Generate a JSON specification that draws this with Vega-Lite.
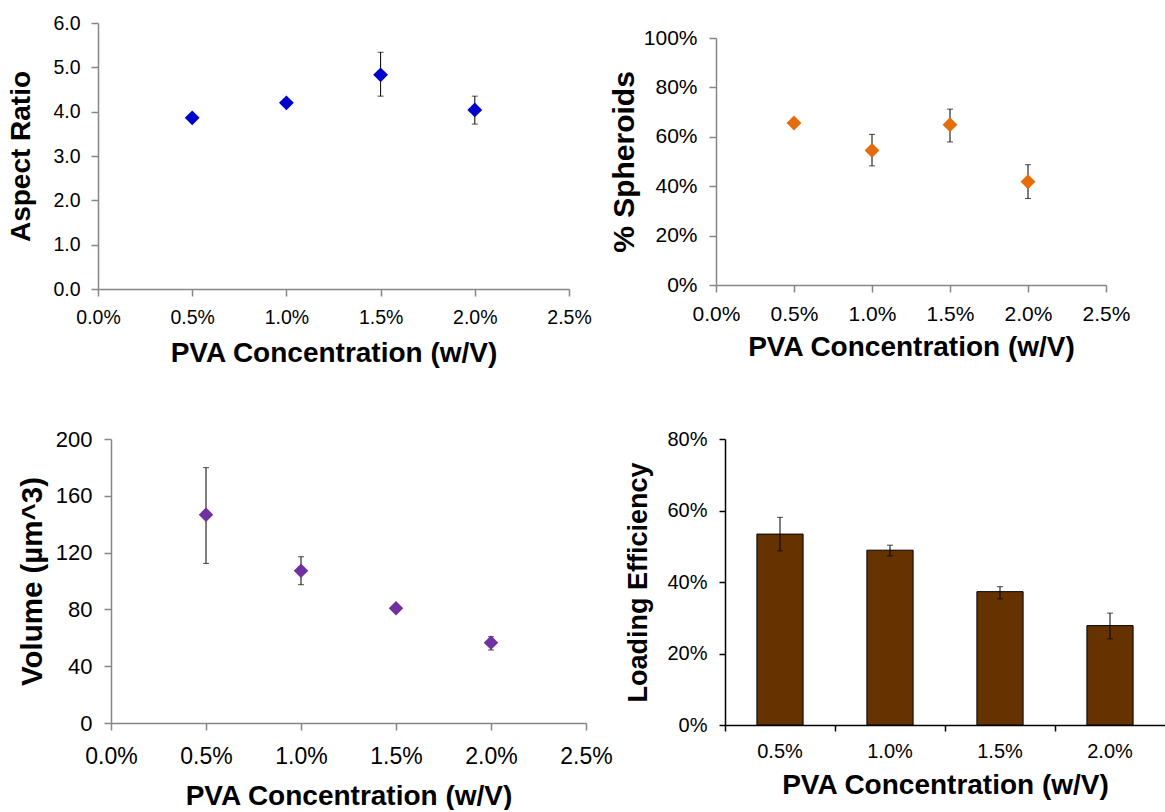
{
  "$schema": "https://vega.github.io/schema/vega-lite/v6.json",
  "background": "white",
  "padding": {"left": 7, "top": 13, "right": 0, "bottom": 0},
  "spacing": 60,
  "datasets": {
    "aspect": [
      {"conc": 0.005, "v": 3.86, "lo": 3.81, "hi": 3.91},
      {"conc": 0.010, "v": 4.20, "lo": 4.15, "hi": 4.25},
      {"conc": 0.015, "v": 4.83, "lo": 4.35, "hi": 5.34},
      {"conc": 0.020, "v": 4.04, "lo": 3.72, "hi": 4.35}
    ],
    "spheroids": [
      {"conc": 0.005, "v": 0.656, "lo": 0.646, "hi": 0.666},
      {"conc": 0.010, "v": 0.545, "lo": 0.482, "hi": 0.61},
      {"conc": 0.015, "v": 0.649, "lo": 0.579, "hi": 0.712},
      {"conc": 0.020, "v": 0.418, "lo": 0.35, "hi": 0.487}
    ],
    "volume": [
      {"conc": 0.005, "v": 146.7, "lo": 112.4, "hi": 179.8},
      {"conc": 0.010, "v": 107.3, "lo": 97.4, "hi": 117.1},
      {"conc": 0.015, "v": 80.8, "lo": 78.8, "hi": 82.8},
      {"conc": 0.020, "v": 56.6, "lo": 51.4, "hi": 60.8}
    ],
    "loading": [
      {"conc": "0.5%", "v": 0.534, "lo": 0.487, "hi": 0.581},
      {"conc": "1.0%", "v": 0.489, "lo": 0.473, "hi": 0.503},
      {"conc": "1.5%", "v": 0.373, "lo": 0.353, "hi": 0.387},
      {"conc": "2.0%", "v": 0.278, "lo": 0.241, "hi": 0.313}
    ]
  },
  "vconcat": [
    {
      "hconcat": [
        {
          "width": 471, "height": 266,
          "data": {"name": "aspect"},
          "layer": [
            {
              "mark": {"type": "errorbar", "ticks": {"color": "black"}, "rule": {"color": "black"}, "size": 6, "thickness": 1},
              "encoding": {
                "x": {"field": "conc", "type": "quantitative", "scale": {"domain": [0, 0.025]},
                  "axis": {"values": [0, 0.005, 0.01, 0.015, 0.02, 0.025], "format": ".1%", "labelFontSize": 19.5, "labelPadding": 12, "titleFontSize": 28, "titlePadding": 13, "labelFlush": false, "labelOverlap": false},
                  "title": "PVA Concentration (w/V)"},
                "y": {"field": "lo", "type": "quantitative", "scale": {"domain": [0, 6]},
                  "axis": {"values": [0, 1, 2, 3, 4, 5, 6], "format": ".1f", "labelFontSize": 19.5, "labelPadding": 11, "titleFontSize": 28, "titlePadding": 17},
                  "title": "Aspect Ratio"},
                "y2": {"field": "hi"}
              }
            },
            {
              "mark": {"type": "point", "shape": "diamond", "filled": true, "size": 220, "color": "#0000CC", "opacity": 1},
              "encoding": {
                "x": {"field": "conc", "type": "quantitative", "scale": {"domain": [0, 0.025]},
                  "axis": {"values": [0, 0.005, 0.01, 0.015, 0.02, 0.025], "format": ".1%", "labelFontSize": 19.5, "labelPadding": 12, "titleFontSize": 28, "titlePadding": 13, "labelFlush": false, "labelOverlap": false},
                  "title": "PVA Concentration (w/V)"},
                "y": {"field": "v", "type": "quantitative", "scale": {"domain": [0, 6]},
                  "axis": {"values": [0, 1, 2, 3, 4, 5, 6], "format": ".1f", "labelFontSize": 19.5, "labelPadding": 11, "titleFontSize": 28, "titlePadding": 17},
                  "title": "Aspect Ratio"}
              }
            }
          ]
        },
        {
          "width": 390, "height": 262,
          "data": {"name": "spheroids"},
          "layer": [
            {
              "mark": {"type": "errorbar", "ticks": {"color": "black"}, "rule": {"color": "black"}, "size": 6, "thickness": 1},
              "encoding": {
                "x": {"field": "conc", "type": "quantitative", "scale": {"domain": [0, 0.025]},
                  "axis": {"values": [0, 0.005, 0.01, 0.015, 0.02, 0.025], "format": ".1%", "labelFontSize": 21, "labelPadding": 11, "titleFontSize": 28, "titlePadding": 9, "labelFlush": false, "labelOverlap": false},
                  "title": "PVA Concentration (w/V)"},
                "y": {"field": "lo", "type": "quantitative", "scale": {"domain": [0, 1], "range": [262, 15]},
                  "axis": {"values": [0, 0.2, 0.4, 0.6, 0.8, 1], "format": ".0%", "labelFontSize": 21, "labelPadding": 12, "titleFontSize": 30, "titlePadding": 4},
                  "title": "% Spheroids"},
                "y2": {"field": "hi"}
              }
            },
            {
              "mark": {"type": "point", "shape": "diamond", "filled": true, "size": 220, "color": "#E46C0A", "opacity": 1},
              "encoding": {
                "x": {"field": "conc", "type": "quantitative", "scale": {"domain": [0, 0.025]},
                  "axis": {"values": [0, 0.005, 0.01, 0.015, 0.02, 0.025], "format": ".1%", "labelFontSize": 21, "labelPadding": 11, "titleFontSize": 28, "titlePadding": 9, "labelFlush": false, "labelOverlap": false},
                  "title": "PVA Concentration (w/V)"},
                "y": {"field": "v", "type": "quantitative", "scale": {"domain": [0, 1], "range": [262, 15]},
                  "axis": {"values": [0, 0.2, 0.4, 0.6, 0.8, 1], "format": ".0%", "labelFontSize": 21, "labelPadding": 12, "titleFontSize": 30, "titlePadding": 4},
                  "title": "% Spheroids"}
              }
            }
          ]
        }
      ],
      "spacing": 17,
      "align": "none"
    },
    {
      "hconcat": [
        {
          "width": 488, "height": 284,
          "data": {"name": "volume"},
          "layer": [
            {
              "mark": {"type": "errorbar", "ticks": {"color": "black"}, "rule": {"color": "black"}, "size": 6, "thickness": 1},
              "encoding": {
                "x": {"field": "conc", "type": "quantitative", "scale": {"domain": [0, 0.025], "range": [13, 488]},
                  "axis": {"values": [0, 0.005, 0.01, 0.015, 0.02, 0.025], "format": ".1%", "labelFontSize": 23, "labelPadding": 15, "titleFontSize": 28, "titlePadding": 14, "labelFlush": false, "labelOverlap": false},
                  "title": "PVA Concentration (w/V)"},
                "y": {"field": "lo", "type": "quantitative", "scale": {"domain": [0, 200]},
                  "axis": {"values": [0, 40, 80, 120, 160, 200], "offset": -13, "labelFontSize": 22, "labelPadding": 12, "titleFontSize": 29.5, "titlePadding": 8},
                  "title": "Volume (µm^3)"},
                "y2": {"field": "hi"}
              }
            },
            {
              "mark": {"type": "point", "shape": "diamond", "filled": true, "size": 210, "color": "#7030A0", "opacity": 1},
              "encoding": {
                "x": {"field": "conc", "type": "quantitative", "scale": {"domain": [0, 0.025], "range": [13, 488]},
                  "axis": {"values": [0, 0.005, 0.01, 0.015, 0.02, 0.025], "format": ".1%", "labelFontSize": 23, "labelPadding": 15, "titleFontSize": 28, "titlePadding": 14, "labelFlush": false, "labelOverlap": false},
                  "title": "PVA Concentration (w/V)"},
                "y": {"field": "v", "type": "quantitative", "scale": {"domain": [0, 200]},
                  "axis": {"values": [0, 40, 80, 120, 160, 200], "offset": -13, "labelFontSize": 22, "labelPadding": 12, "titleFontSize": 29.5, "titlePadding": 8},
                  "title": "Volume (µm^3)"}
              }
            }
          ]
        },
        {
          "width": 440, "height": 286,
          "data": {"name": "loading"},
          "resolve": {"axis": {"x": "independent"}},
          "layer": [
            {
              "mark": {"type": "bar", "color": "#663300", "stroke": "black", "strokeWidth": 1, "width": {"band": 0.42}},
              "encoding": {
                "x": {"field": "conc", "type": "nominal", "sort": null, "scale": {"paddingInner": 0, "paddingOuter": 0},
                  "axis": {"labelAngle": 0, "ticks": false, "labelFontSize": 20, "labelPadding": 16, "titleFontSize": 28, "titlePadding": 10, "domainColor": "black"},
                  "title": "PVA Concentration (w/V)"},
                "y": {"field": "v", "type": "quantitative", "scale": {"domain": [0, 0.8]},
                  "axis": {"values": [0, 0.2, 0.4, 0.6, 0.8], "format": ".0%", "labelFontSize": 20, "labelPadding": 12, "titleFontSize": 27, "titlePadding": 14, "tickSize": 6, "domainColor": "black", "tickColor": "black"},
                  "title": "Loading Efficiency"}
              }
            },
            {
              "mark": {"type": "errorbar", "ticks": {"color": "black"}, "rule": {"color": "black"}, "size": 6, "thickness": 1},
              "encoding": {
                "x": {"field": "conc", "type": "nominal", "sort": null,
                  "axis": {"orient": "bottom", "labels": false, "domain": false, "ticks": true, "bandPosition": 0, "tickSize": 6, "tickColor": "black", "title": null}},
                "y": {"field": "lo", "type": "quantitative", "scale": {"domain": [0, 0.8]},
                  "axis": {"values": [0, 0.2, 0.4, 0.6, 0.8], "format": ".0%", "labelFontSize": 20, "labelPadding": 12, "titleFontSize": 27, "titlePadding": 14, "tickSize": 6, "domainColor": "black", "tickColor": "black"},
                  "title": "Loading Efficiency"},
                "y2": {"field": "hi"}
              }
            }
          ]
        }
      ],
      "spacing": 11,
      "align": "none"
    }
  ],
  "align": "none",
  "config": {
    "view": {"stroke": null},
    "axis": {
      "grid": false,
      "labelFont": "Liberation Sans",
      "titleFont": "Liberation Sans",
      "labelColor": "black",
      "titleColor": "black",
      "titleFontWeight": "bold",
      "domainColor": "#868686",
      "tickColor": "#868686",
      "tickSize": 7,
      "domainWidth": 1.5,
      "tickWidth": 1.5
    }
  }
}
